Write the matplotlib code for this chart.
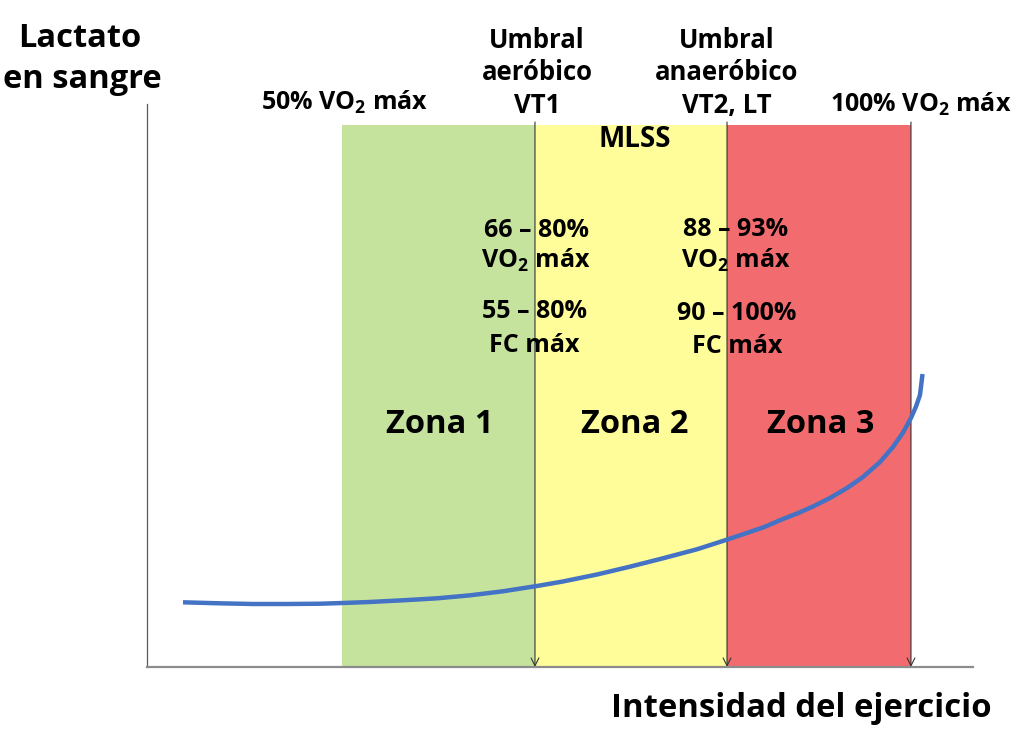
import matplotlib
matplotlib.use("Agg")
import matplotlib.pyplot as plt

FONT = 'Open Sans'
plt.rcParams['font.family'] = [FONT, 'DejaVu Sans']
plt.rcParams['font.weight'] = 'bold'
plt.rcParams['mathtext.fontset'] = 'custom'
plt.rcParams['mathtext.rm'] = FONT + ':bold'
plt.rcParams['mathtext.it'] = FONT + ':bold'
plt.rcParams['mathtext.bf'] = FONT + ':bold'

# ---- data (intensity 0-100 on x, lactate 0-100 on y) ----
zone_names = ["Zona 1", "Zona 2", "Zona 3"]
zone_starts = [23.61, 46.97, 70.22]
zone_ends = [46.97, 70.22, 92.49]
zone_colors = ["#C5E39D", "#FEFD99", "#F26B6E"]
zone_top = 96.27
threshold_x = [46.97, 70.22, 92.49]

curve_x = [4.36, 8.84, 12.83, 16.95, 20.94, 23.73, 27.00, 30.99, 35.11, 39.10,
           43.10, 47.22, 50.36, 54.48, 58.47, 62.47, 66.59, 70.34, 74.58, 77.00,
           78.69, 80.63, 82.69, 84.75, 86.68, 88.74, 90.31, 91.53, 92.49, 93.10,
           93.58, 93.89]
curve_y = [11.49, 11.31, 11.19, 11.19, 11.24, 11.37, 11.55, 11.85, 12.20, 12.73,
           13.45, 14.39, 15.19, 16.43, 17.82, 19.31, 20.91, 22.68, 24.78, 26.29,
           27.26, 28.51, 30.02, 31.79, 33.75, 36.41, 39.08, 41.65, 44.23, 46.27,
           48.31, 52.04]

W, H = 1024, 731
fig = plt.figure(figsize=(W / 100, H / 100), dpi=100)
fig.patch.set_facecolor("white")
ax_l, ax_r, ax_t, ax_b = 147, 973, 104, 667
ax = fig.add_axes([ax_l / W, 1 - ax_b / H, (ax_r - ax_l) / W, (ax_b - ax_t) / H])
ax.set_xlim(0, 100)
ax.set_ylim(0, 100)
for s in ["top", "right"]:
    ax.spines[s].set_visible(False)
ax.spines["left"].set_color("#595959")
ax.spines["left"].set_linewidth(0.9)
ax.spines["bottom"].set_color("#8C8C8C")
ax.spines["bottom"].set_linewidth(1.6)
ax.spines["bottom"].set_zorder(6)
ax.set_xticks([])
ax.set_yticks([])

for x0, x1, c in zip(zone_starts, zone_ends, zone_colors):
    ax.fill_between([x0, x1], 0, zone_top, color=c, lw=0, zorder=1)

for x in threshold_x:
    ax.annotate("", xy=(x, 0), xytext=(x, 96.8),
                arrowprops=dict(arrowstyle="->", lw=0.8, color="#333333",
                                mutation_scale=14, shrinkA=0, shrinkB=0),
                zorder=3)

ax.plot(curve_x, curve_y, color="#4472C4", lw=3.2, solid_capstyle="butt",
        solid_joinstyle="round", zorder=5)


def ptext(x, y, s, size, ha="center"):
    fig.text(x / W, 1 - y / H, s, fontsize=size, fontweight="bold",
             ha=ha, va="baseline", color="black")


# axis titles
ptext(80, 47, "Lactato", 23.5)
ptext(82, 88, "en sangre", 23.5)
ptext(801, 717, "Intensidad del ejercicio", 23.7)

# top labels
ptext(345, 110, "50% VO$_2$ máx", 18)
ptext(537, 48, "Umbral", 18.5)
ptext(537, 80, "aeróbico", 18.5)
ptext(537, 113, "VT1", 18.5)
ptext(727, 48, "Umbral", 18.5)
ptext(727, 80, "anaeróbico", 18.5)
ptext(727, 113, "VT2, LT", 18.5)
ptext(921, 112, "100% VO$_2$ máx", 18)
ptext(635, 147, "MLSS", 20)

# zone details
ptext(536, 237, "66 – 80%", 18)
ptext(536, 268, "VO$_2$ máx", 18)
ptext(534, 318, "55 – 80%", 18)
ptext(534, 352, "FC máx", 18)
ptext(736, 236, "88 – 93%", 18)
ptext(736, 268, "VO$_2$ máx", 18)
ptext(737, 320, "90 – 100%", 18)
ptext(737, 353, "FC máx", 18)

for name, cx in zip(zone_names, [440, 635, 821]):
    ptext(cx, 433, name, 23.5)

fig.savefig("out.png", dpi=100, facecolor="white")
